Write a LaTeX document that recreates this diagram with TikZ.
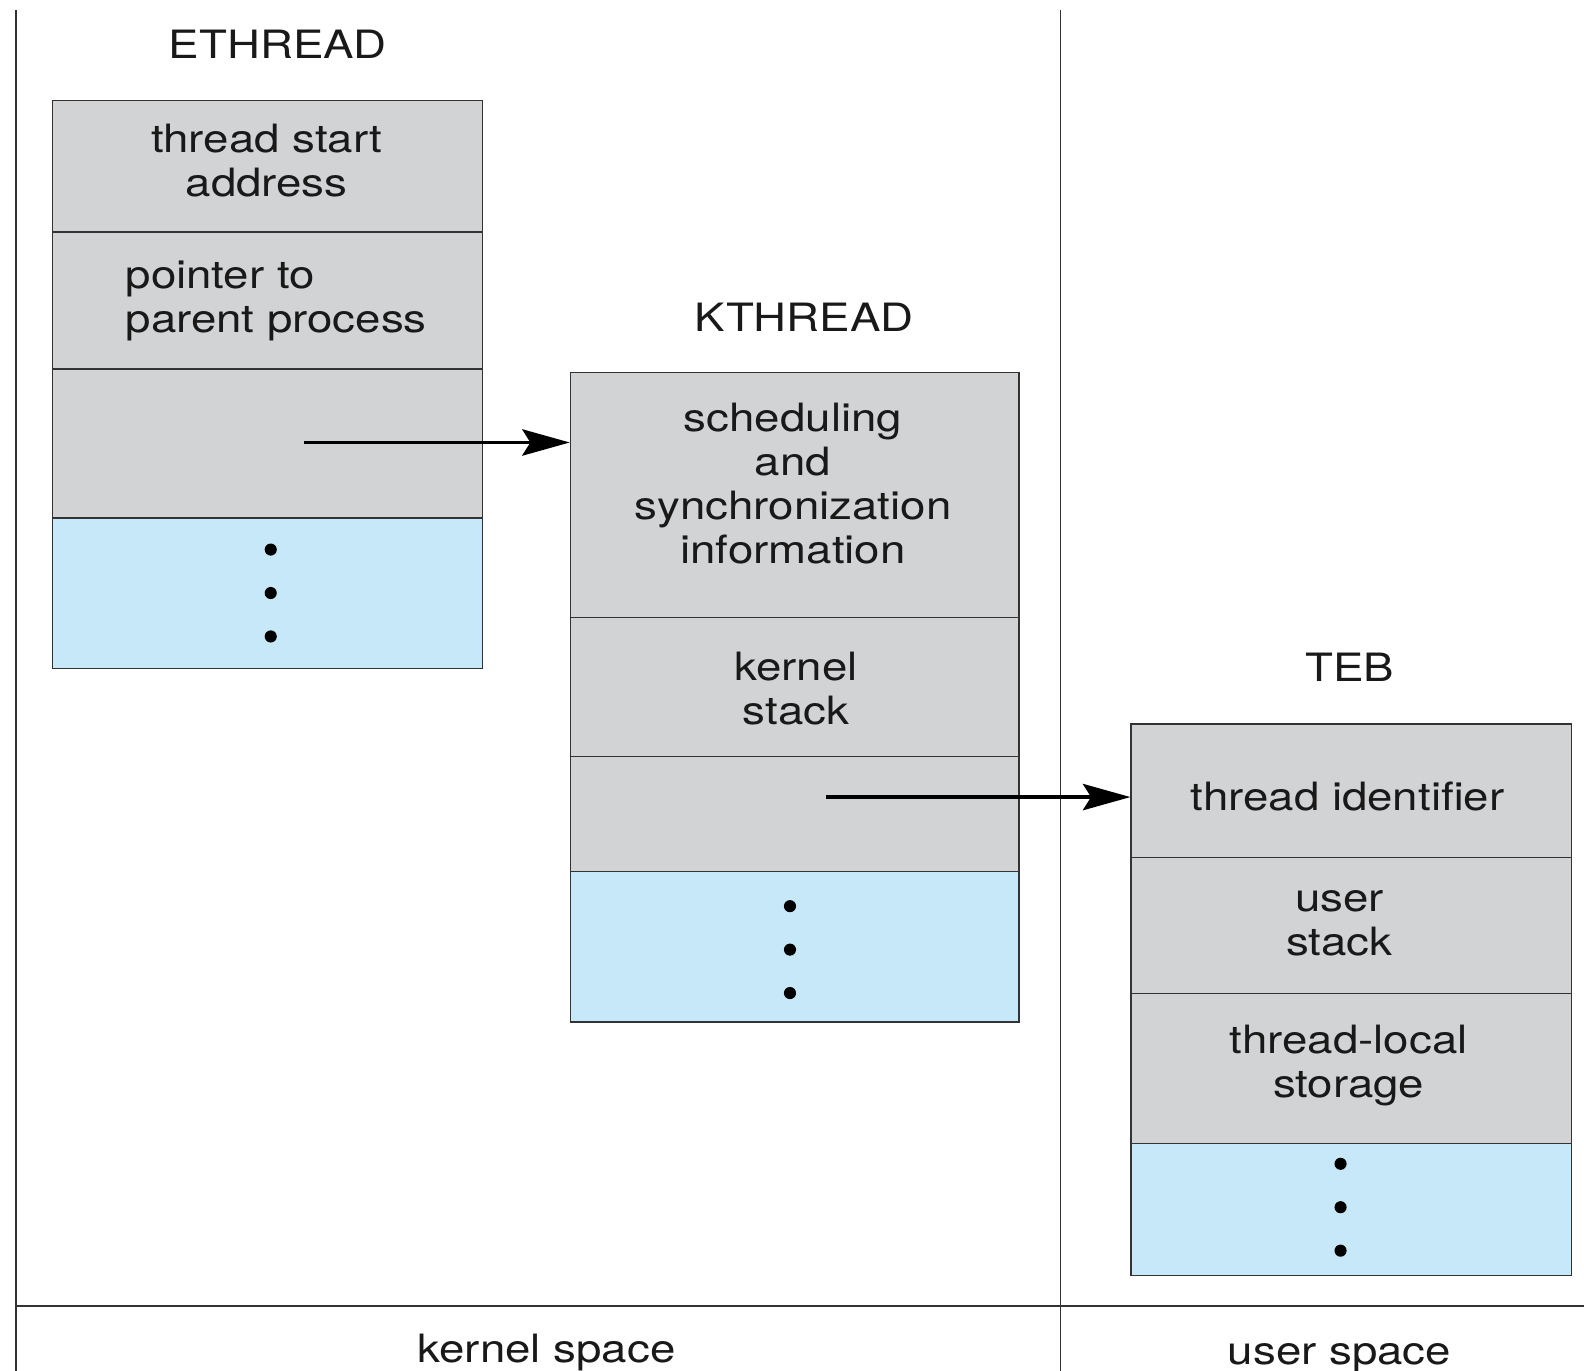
\documentclass[tikz,border=0pt]{standalone}
\usepackage{fontspec}
\setmainfont{TeX Gyre Heros}[FakeStretch=1.17]
\usetikzlibrary{arrows.meta}
\definecolor{cellgray}{HTML}{D1D3D5}
\definecolor{cellblue}{HTML}{C6E8F8}
\definecolor{edge}{HTML}{333333}
\tikzset{
  cell/.style={draw=edge, line width=0.6pt, inner sep=0pt, anchor=north west},
  gcell/.style={cell, fill=cellgray},
  bcell/.style={cell, fill=cellblue},
  txt/.style={font=\fontsize{19.3}{21.75}\selectfont, align=center, inner sep=0pt, text=black!90},
  region/.style={draw=edge, line width=0.75pt},
  arr/.style={line width=1.9pt, -{Stealth[length=23.5pt, width=13pt, inset=4pt]}},
  dot/.style={fill=black}
}
\begin{document}
\begin{tikzpicture}[x=0.5pt, y=-0.5pt]
\useasboundingbox (0,0) rectangle (1568,1357);
\fill[white] (0,0) rectangle (1568,1357);

% region lines
\coordinate (lt) at (16,10);
\coordinate (lb) at (16,1357);
\coordinate (mt) at (1050,10);
\coordinate (mb) at (1050,1357);
\coordinate (hl) at (16,1293);
\coordinate (hr) at (1568,1293);
\draw[region] (lt) -- (lb);
\draw[region] (mt) -- (mb);
\draw[region] (hl) -- (hr);

% ETHREAD
\node[txt] (ethl) at (275,44) {ETHREAD};
\node[gcell, minimum width=213pt, minimum height=65pt] (e1) at (51,99) {};
\node[gcell, minimum width=213pt, minimum height=68pt] (e2) at (51,229) {};
\node[gcell, minimum width=213pt, minimum height=74pt] (e3) at (51,365) {};
\node[bcell, minimum width=213pt, minimum height=74pt] (e4) at (51,513) {};
\draw[draw=edge, line width=1.1pt] (e3.north west) -- (e3.north east);
\draw[draw=edge, line width=1.1pt] (e4.north west) -- (e4.north east);
\node[txt] (e1t) at (264,159) {thread start\\address};
\node[txt, align=left, anchor=west] (e2t) at (124,298) {pointer to\\parent process};
\fill[dot] (268,544) circle[radius=6];
\fill[dot] (268,587) circle[radius=6];
\fill[dot] (268,630) circle[radius=6];

% KTHREAD
\node[txt] (kthl) at (796,314) {KTHREAD};
\node[gcell, minimum width=222pt, minimum height=121.5pt] (k1) at (564,368) {};
\node[gcell, minimum width=222pt, minimum height=68.5pt] (k2) at (564,611) {};
\node[gcell, minimum width=222pt, minimum height=57pt] (k3) at (564,748) {};
\node[bcell, minimum width=222pt, minimum height=74.5pt] (k4) at (564,862) {};
\node[txt] (k1t) at (785,479) {scheduling\\and\\synchronization\\information};
\node[txt] (k2t) at (788,682) {kernel\\stack};
\fill[dot] (782,897) circle[radius=6];
\fill[dot] (782,940) circle[radius=6];
\fill[dot] (782,983) circle[radius=6];

% TEB
\node[txt] (tebl) at (1336,661) {TEB};
\node[gcell, minimum width=218pt, minimum height=66pt] (t1) at (1119,716) {};
\node[gcell, minimum width=218pt, minimum height=67.5pt] (t2) at (1119,848) {};
\node[gcell, minimum width=218pt, minimum height=74pt] (t3) at (1119,983) {};
\node[bcell, minimum width=218pt, minimum height=65.5pt] (t4) at (1119,1131) {};
\node[txt] (t1t) at (1334,788) {thread identifier};
\node[txt] (t2t) at (1326,914) {user\\stack};
\node[txt] (t3t) at (1335,1055) {thread-local\\storage};
\fill[dot] (1327,1152) circle[radius=6];
\fill[dot] (1327,1195) circle[radius=6];
\fill[dot] (1327,1238) circle[radius=6];

% pointers
\coordinate (p1) at (301,438);
\draw[arr] (p1) -- (p1 -| k1.west);
\coordinate (p2) at (818,789);
\draw[arr] (p2) -- (p2 -| t1.west);

% region labels
\node[txt] (ks) at (541,1339) {kernel space};
\node[txt] (us) at (1326,1344) {user space};
\end{tikzpicture}
\end{document}
